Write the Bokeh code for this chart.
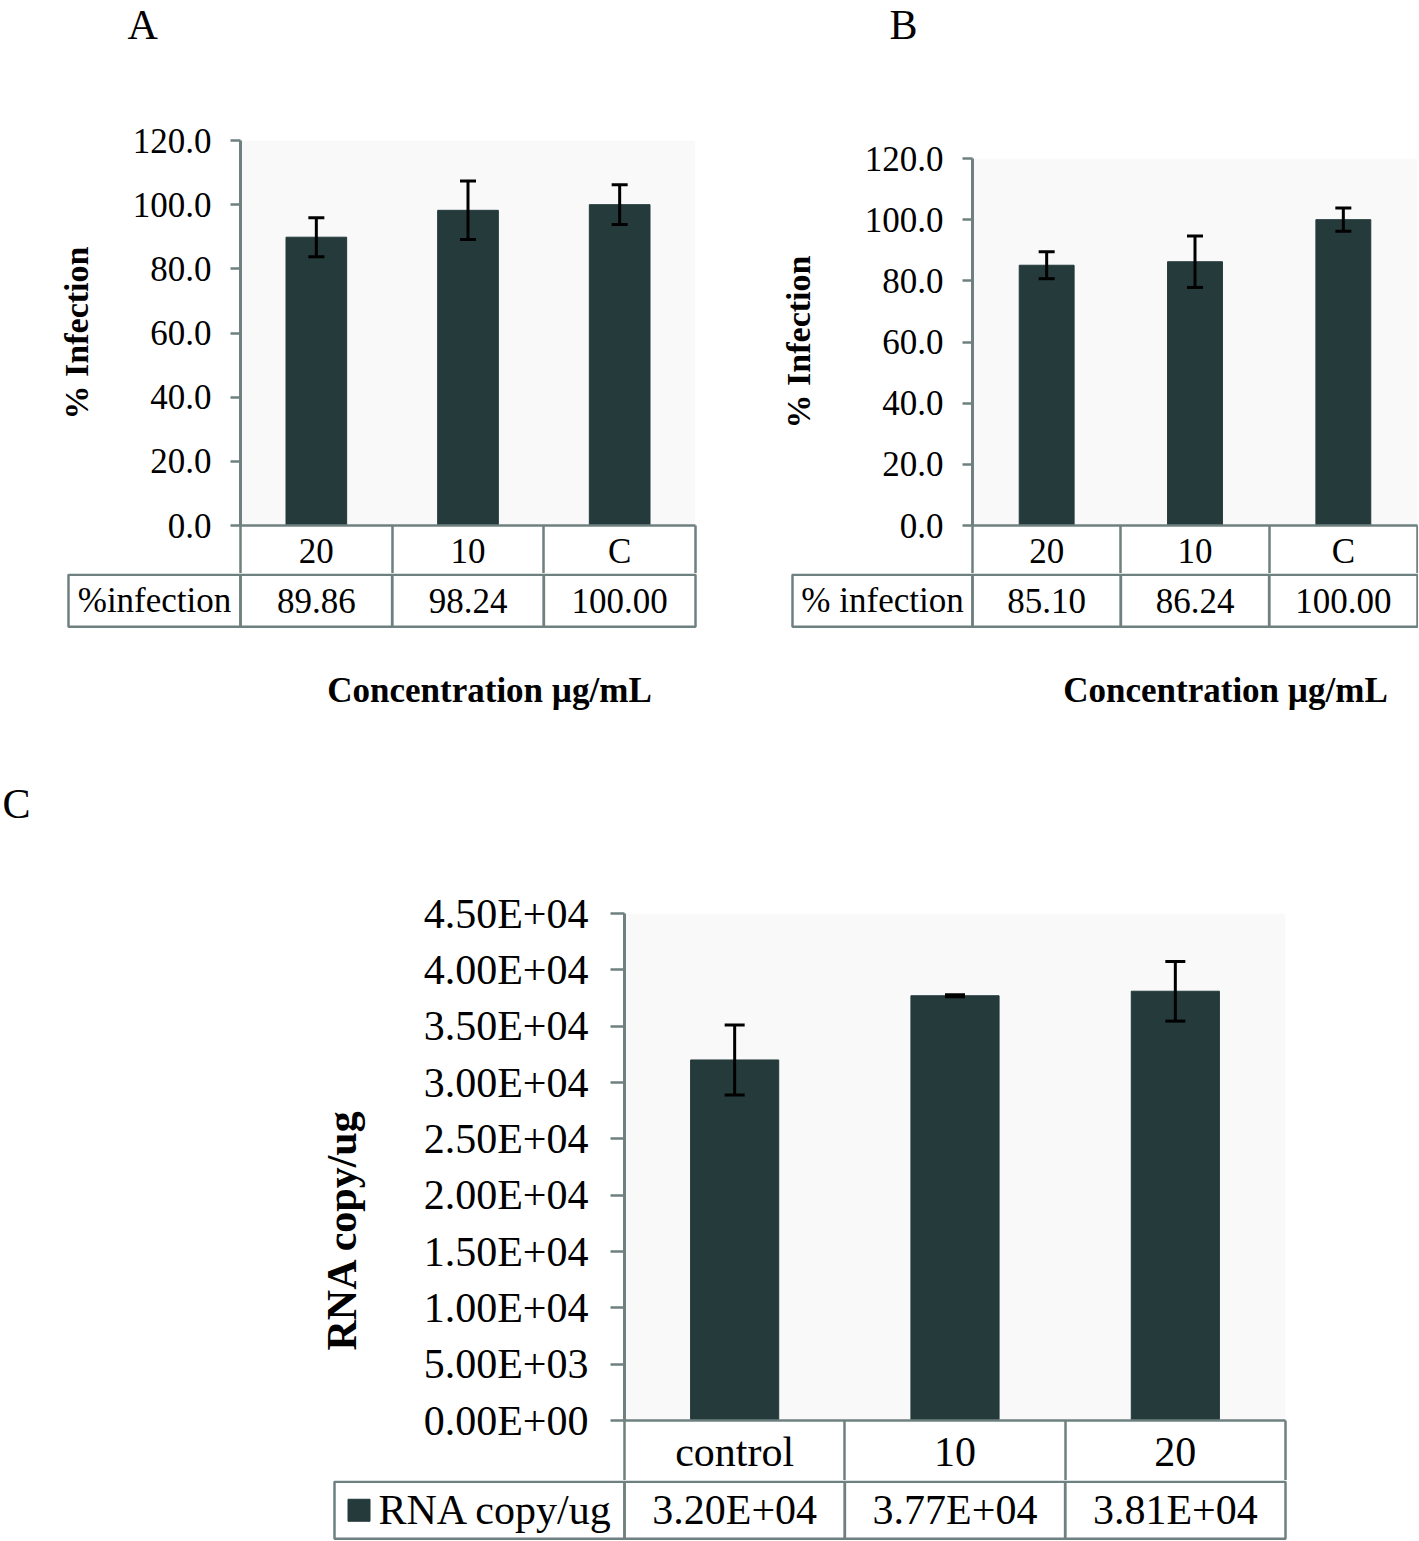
import math
from bokeh.plotting import figure
from bokeh.models import (Range1d, FixedTicker, NumeralTickFormatter, CustomJSTickFormatter,
                          ColumnDataSource, Whisker, TeeHead, Label, BoxAnnotation, Title)
from bokeh.layouts import column, row
from bokeh.embed import file_html
from bokeh.resources import INLINE
from bokeh.core.properties import value

# ---------------- data ----------------
a_categories = ["20", "10", "C"]
a_infection = [89.86, 98.24, 100.00]
a_error = [6.1, 9.1, 6.2]
a_row_label = "%infection"

b_categories = ["20", "10", "C"]
b_infection = [85.10, 86.24, 100.00]
b_error = [4.4, 8.4, 3.8]
b_row_label = "% infection"

c_categories = ["control", "10", "20"]
c_rna = [3.20e4, 3.77e4, 3.81e4]
c_error = [3100, 80, 2650]
c_row_label = "RNA copy/ug"

pct_ticks = [0, 20, 40, 60, 80, 100, 120]
rna_ticks = [0, 5000, 10000, 15000, 20000, 25000, 30000, 35000, 40000, 45000]

panel_letters = ["A", "B", "C"]
x_title = "Concentration µg/mL"
pct_title = "% Infection"
rna_title = "RNA copy/ug"

# ---------------- style ----------------
BAR = "#243a3b"
LINE = "#6e807f"
FONT = "Liberation Serif"
PLOT_BG = "#f9f9f9"
BASELINE_SHIFT = 0.29  # em: Bokeh draws "alphabetic" text this much lower


def letter_fig(width, height, letter, x_px, baseline_px):
    p = figure(width=width, height=height, x_range=Range1d(0, width), y_range=Range1d(height, 0),
               output_backend="svg", toolbar_location=None, frame_align=False,
               x_axis_location=None, y_axis_location=None, min_border=0)
    p.outline_line_color = None
    p.grid.visible = False
    p.add_layout(Label(x=x_px, y=baseline_px - BASELINE_SHIFT * 42, text=letter, text_font=FONT,
                       text_font_size="42px", text_align="left", text_baseline="alphabetic",
                       text_color="black"))
    return p


def main_fig(cats, vals, errs, width, bl, bt, frame_w, frame_h, bb, ymax, yticks, yfmt,
             bar_w, cap, fs, tick_out, tick_std, label_std):
    n = len(cats)
    br = width - bl - frame_w
    p = figure(width=width, height=bt + frame_h + bb, x_range=Range1d(0, n), y_range=Range1d(0, ymax),
               output_backend="svg", toolbar_location=None, frame_align=False,
               min_border_left=bl, min_border_right=br, min_border_top=bt, min_border_bottom=bb)
    p.outline_line_color = None
    p.grid.visible = False
    p.add_layout(BoxAnnotation(left=0, right=n, bottom=0, top=ymax, fill_color=PLOT_BG,
                               fill_alpha=1, line_color=None, level="underlay"))
    xs = [i + 0.5 for i in range(n)]
    src = ColumnDataSource(dict(x=xs, top=vals,
                                upper=[v + e for v, e in zip(vals, errs)],
                                lower=[v - e for v, e in zip(vals, errs)]))
    p.vbar(x="x", top="top", bottom=0, width=bar_w, source=src, fill_color=BAR, line_color=BAR)
    p.add_layout(Whisker(base="x", upper="upper", lower="lower", source=src, level="annotation",
                         line_color="black", line_width=3,
                         upper_head=TeeHead(size=cap, line_color="black", line_width=3),
                         lower_head=TeeHead(size=cap, line_color="black", line_width=3)))
    # x axis = first table row: category names, cell borders as outward minor ticks
    xa = p.xaxis[0]
    xa.ticker = FixedTicker(ticks=xs, minor_ticks=list(range(n + 1)))
    xa.formatter = CustomJSTickFormatter(args=dict(cats=cats), code="return cats[Math.round(tick - 0.5)];")
    xa.major_tick_out = 0
    xa.major_tick_in = 0
    xa.minor_tick_out = 0
    xa.minor_tick_in = -bb
    xa.minor_tick_line_color = LINE
    xa.minor_tick_line_width = 2.5
    xa.axis_line_color = LINE
    xa.axis_line_width = 2.5
    xa.major_label_standoff = label_std
    xa.major_label_text_font = FONT
    xa.major_label_text_font_size = fs
    xa.major_label_text_color = "black"

    ya = p.yaxis[0]
    ya.ticker = FixedTicker(ticks=yticks)
    ya.formatter = yfmt
    ya.major_tick_out = tick_out
    ya.major_tick_in = 0
    ya.minor_tick_line_color = None
    ya.major_tick_line_color = LINE
    ya.major_tick_line_width = 2.5
    ya.axis_line_color = LINE
    ya.axis_line_width = 3
    ya.major_label_standoff = tick_std
    ya.major_label_text_font = FONT
    ya.major_label_text_font_size = fs
    ya.major_label_text_color = "black"
    return p


def style_ylabel(p, text, standoff):
    ya = p.yaxis[0]
    ya.axis_label = text
    ya.axis_label_standoff = standoff
    ya.axis_label_text_font = FONT
    ya.axis_label_text_font_style = "bold"
    ya.axis_label_text_font_size = "34px"
    ya.axis_label_text_color = "black"


def table_fig(cats, texts, row_label, width, height, x0_px, ppx, label_w_px, row_h, fs, legend=False):
    n = len(cats)
    top = 1 + 1.25 / row_h
    p = figure(width=width, height=height,
               x_range=Range1d(-x0_px / ppx, (width - x0_px) / ppx),
               y_range=Range1d(top - height / row_h, top),
               output_backend="svg", toolbar_location=None, frame_align=False,
               x_axis_location=None, y_axis_location=None, min_border=0)
    p.outline_line_color = None
    p.grid.visible = False
    lw = label_w_px / ppx
    xs = [i + 0.5 for i in range(n)]
    p.rect(x=[-lw / 2] + xs, y=[0.5] * (n + 1), width=[lw] + [1] * n, height=1,
           fill_color=None, line_color=LINE, line_width=2.5)
    p.text(x=xs, y=[0.5] * n, text=texts, text_font=value(FONT), text_font_size=value(fs),
           text_align="center", text_baseline="middle", text_color="black")
    if legend:
        p.scatter(x=[-lw + 24.5 / ppx], y=[0.5], marker="square", size=22, fill_color=BAR, line_color=BAR)
        p.text(x=[-lw + 44 / ppx], y=[0.5], text=[row_label], text_font=value(FONT),
               text_font_size=value(fs), text_align="left", text_baseline="middle", text_color="black")
    else:
        p.text(x=[-lw / 2], y=[0.5], text=[row_label], text_font=value(FONT),
               text_font_size=value(fs), text_align="center", text_baseline="middle", text_color="black")
    return p


def add_xtitle(p, x_center_px, x0_px, ppx, baseline_px, row_h):
    top = 1 + 1.25 / row_h
    p.add_layout(Label(x=(x_center_px - x0_px) / ppx, y=top - baseline_px / row_h, text=x_title,
                       text_font=FONT, text_font_size="35px", text_font_style="bold",
                       text_align="center", text_baseline="alphabetic", text_color="black"))


HEAD_H = 50
TOP_H = 720
ROW1 = 48

# ---------------- panel A ----------------
A_W, A_BL, A_BT, A_FW, A_FH = 708, 240, 140 - HEAD_H, 455, 385
a_ppx = A_FW / 3
a_head = letter_fig(A_W, HEAD_H, panel_letters[0], 127, 37)
a_main = main_fig(a_categories, a_infection, a_error, A_W, A_BL, A_BT, A_FW, A_FH, ROW1, 120,
                  pct_ticks, NumeralTickFormatter(format="0.0"), 0.4, 16, "35px", 10, 19, 6)
style_ylabel(a_main, pct_title, 35)
a_table = table_fig(a_categories, [f"{v:.2f}" for v in a_infection], a_row_label,
                    A_W, TOP_H - (HEAD_H + A_BT + A_FH + ROW1), A_BL, a_ppx, 172, 52, "35px")
add_xtitle(a_table, 489, A_BL, a_ppx, 690 - 573, 52)

# ---------------- panel B ----------------
B_W, B_BL, B_BT, B_FW, B_FH = 710, 264, 158 - HEAD_H, 445, 367
b_ppx = B_FW / 3
b_head = letter_fig(B_W, HEAD_H, panel_letters[1], 889 - 708, 37)
b_main = main_fig(b_categories, b_infection, b_error, B_W, B_BL, B_BT, B_FW, B_FH, ROW1, 120,
                  pct_ticks, NumeralTickFormatter(format="0.0"), 0.37, 16, "35px", 10, 19, 6)
style_ylabel(b_main, pct_title, 45)
b_table = table_fig(b_categories, [f"{v:.2f}" for v in b_infection], b_row_label,
                    B_W, TOP_H - (HEAD_H + B_BT + B_FH + ROW1), B_BL, b_ppx, 180, 52, "35px")
add_xtitle(b_table, 1225 - 708, B_BL, b_ppx, 690 - 573, 52)

# ---------------- panel C ----------------
C_HEAD_H = 112
C_W, C_BL, C_BT, C_FW, C_FH, C_ROW1 = 1289, 624, 913 - TOP_H - C_HEAD_H, 661, 507, 60
c_ppx = C_FW / 3
c_head = letter_fig(C_W, C_HEAD_H, panel_letters[2], 2, 816 - TOP_H)
sci_fmt = CustomJSTickFormatter(code="""
const parts = tick.toExponential(2).split('e');
const e = parseInt(parts[1]);
const a = Math.abs(e);
return parts[0] + 'E' + (e < 0 ? '-' : '+') + (a < 10 ? '0' : '') + a;
""")
c_main = main_fig(c_categories, c_rna, c_error, C_W, C_BL, C_BT, C_FW, C_FH, C_ROW1, 45000,
                  rna_ticks, sci_fmt, 0.4, 20, "42px", 14, 22, 8)
c_main.add_layout(Title(text=rna_title, align="left", offset=70, standoff=112,
                        text_font=FONT, text_font_size="42px", text_font_style="bold",
                        text_color="black"), "left")
c_table = table_fig(c_categories, [f"{v:.2E}" for v in c_rna], c_row_label,
                    C_W, 60, C_BL, c_ppx, 290, 57, "42px", legend=True)

layout = column(row(column(a_head, a_main, a_table), column(b_head, b_main, b_table)),
                c_head, c_main, c_table)

open("out.html", "w").write(file_html(layout, INLINE))
